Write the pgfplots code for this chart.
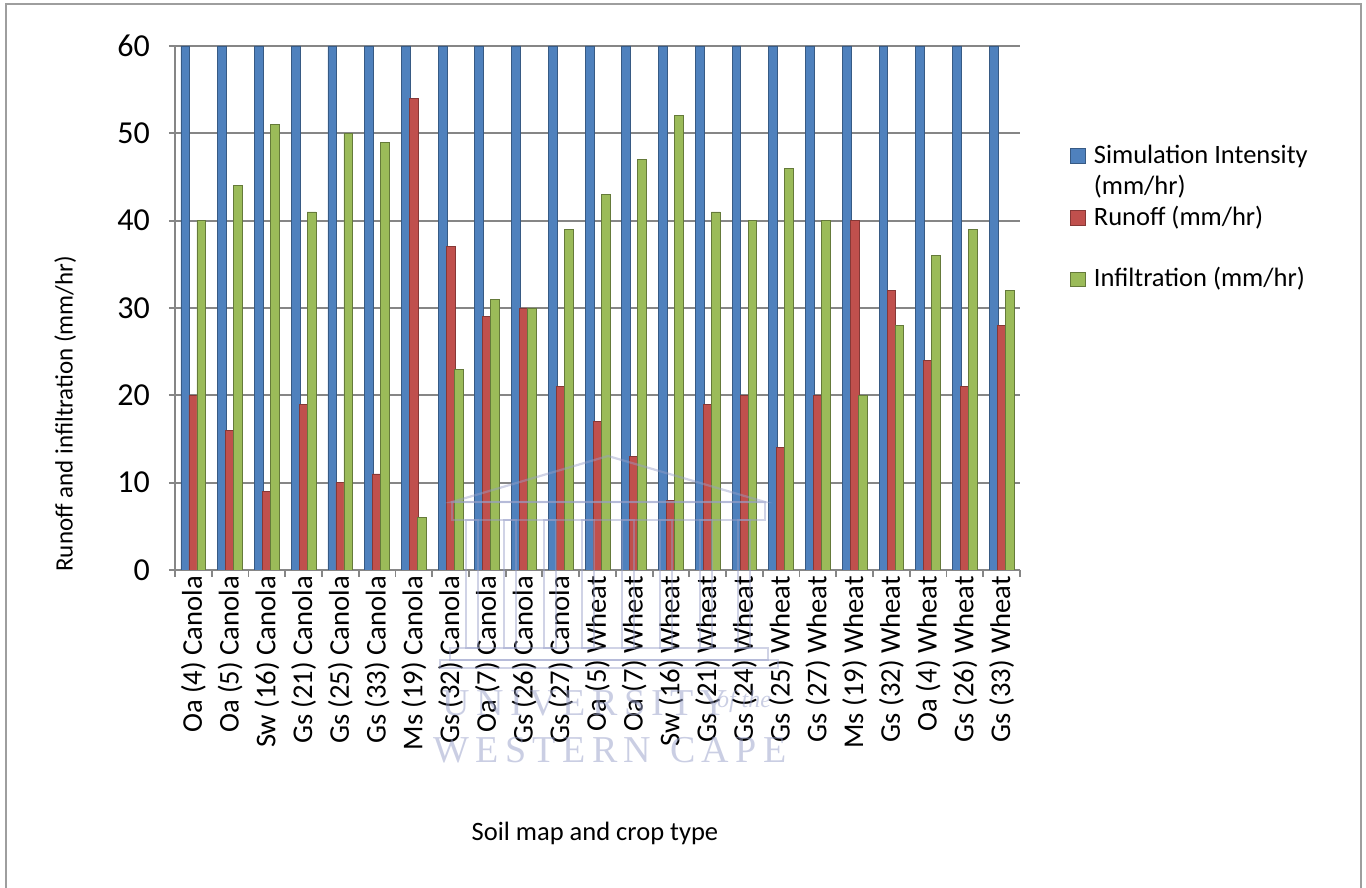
\documentclass[border=0pt]{standalone}
\usepackage{pgfplots}
\pgfplotsset{compat=1.18}
\usepackage{pgfplotstable}
\usepackage{fontspec}
\setmainfont{Carlito}
\newfontfamily\wmfont{Liberation Serif}

\definecolor{simblue}{HTML}{4F81BD}
\definecolor{runred}{HTML}{C0504D}
\definecolor{infgreen}{HTML}{9BBB59}
\definecolor{gridgray}{HTML}{868686}
\definecolor{wmcol}{RGB}{150,158,200}

% Simulation intensity, runoff and infiltration per soil map unit and crop
\pgfplotstableread{
idx sim run inf
0  60 20 40
1  60 16 44
2  60  9 51
3  60 19 41
4  60 10 50
5  60 11 49
6  60 54  6
7  60 37 23
8  60 29 31
9  60 30 30
10 60 21 39
11 60 17 43
12 60 13 47
13 60  8 52
14 60 19 41
15 60 20 40
16 60 14 46
17 60 20 40
18 60 40 20
19 60 32 28
20 60 24 36
21 60 21 39
22 60 28 32
}\datatable

\pgfplotsset{
  sq/.style={legend image code/.code={\fill[##1] (0pt,-2.6pt) rectangle (7.4pt,4.8pt);}},
}

\begin{document}
\begin{tikzpicture}[x=1pt,y=1pt]
\useasboundingbox (0,0) rectangle (683,444);
\draw[gridgray!80, line width=0.9pt] (3,-5) -- (3,442) -- (680.5,442) -- (680.5,-5);
\begin{axis}[
  at={(87.5pt,159pt)}, anchor=south west,
  scale only axis, width=422.5pt, height=262pt,
  xmin=-0.5, xmax=22.5, ymin=0, ymax=60,
  ytick={0,10,...,60},
  xtick={0,...,22},
  xticklabels={Oa (4) Canola, Oa (5) Canola, Sw (16) Canola, Gs (21) Canola,
    Gs (25) Canola, Gs (33) Canola, Ms (19) Canola, Gs (32) Canola,
    Oa (7) Canola, Gs (26) Canola, Gs (27) Canola, Oa (5) Wheat,
    Oa (7) Wheat, Sw (16) Wheat, Gs (21) Wheat, Gs (24) Wheat,
    Gs (25) Wheat, Gs (27) Wheat, Ms (19) Wheat, Gs (32) Wheat,
    Oa (4) Wheat, Gs (26) Wheat, Gs (33) Wheat},
  minor xtick={-0.5,0.5,...,22.5},
  axis lines=left,
  axis line style={gridgray, line width=0.9pt, -},
  ymajorgrids,
  major grid style={gridgray, line width=0.9pt},
  tick align=outside,
  major tick length=3pt, minor tick length=3.5pt,
  tick style={gridgray, line width=0.9pt},
  major x tick style={draw=none},
  /pgf/number format/assume math mode=true,
  tick label style={text=black},
  yticklabel style={font=\fontsize{16}{18}\selectfont},
  yticklabel shift=6pt,
  xticklabel style={rotate=90, anchor=east, font=\fontsize{14.3}{16}\selectfont},
  xticklabel shift=-3.5pt,
  ylabel={Runoff and infiltration (mm/hr)},
  ylabel style={at={(axis description cs:-0.130,0.298)}, anchor=center,
    font=\fontsize{12.5}{15}\selectfont},
  xlabel={Soil map and crop type},
  xlabel style={at={(axis description cs:0.497,-0.502)}, anchor=center,
    font=\fontsize{13.25}{15}\selectfont},
  legend cell align=left,
  legend style={draw=none, fill=none, at={(1.059,0.8157)}, anchor=north west,
    font=\fontsize{13.25}{15}\selectfont, row sep=0pt, column sep=4pt,
    inner sep=0pt,
    nodes={inner sep=0pt, text height=10.3pt, text depth=5.1pt}},
]
\addplot[ybar, bar width=4.4pt, bar shift=-4pt, fill=simblue,
  draw=simblue!70!black, line width=0.4pt, sq]
  table[x=idx, y=sim] {\datatable};
\addlegendentry{Simulation Intensity}
\addlegendimage{empty legend}
\addlegendentry{(mm/hr)}
\addplot[ybar, bar width=4.4pt, bar shift=0pt, fill=runred,
  draw=runred!70!black, line width=0.4pt, sq]
  table[x=idx, y=run] {\datatable};
\addlegendentry{Runoff (mm/hr)}
\addlegendimage{empty legend}
\addlegendentry{}
\addplot[ybar, bar width=4.4pt, bar shift=4pt, fill=infgreen,
  draw=infgreen!65!black, line width=0.4pt, sq]
  table[x=idx, y=inf] {\datatable};
\addlegendentry{Infiltration (mm/hr)}
\end{axis}

% faint university crest drawn across the lower part of the chart
\begin{scope}[draw=wmcol, opacity=0.45, line width=1.1pt]
  \draw (226,193) -- (304,216) -- (382.5,193) -- cycle;
  \draw (226,184) rectangle (382.5,193);
  \foreach \cx in {236,255,275,294,314,333,353,372}
    \draw (\cx-3,120) rectangle (\cx+3,184);
  \draw (225,114) rectangle (384,120);
  \draw (220,110) rectangle (389,114);
\end{scope}
\node[text=wmcol, opacity=0.5, font=\wmfont\fontsize{19}{20}\selectfont]
  at (292.5,92.5) {U\,N\,I\,V\,E\,R\,S\,I\,T\,Y};
\node[text=wmcol, opacity=0.5, font=\wmfont\itshape\fontsize{12}{14}\selectfont]
  at (372,93) {of the};
\node[text=wmcol, opacity=0.5, font=\wmfont\fontsize{19}{20}\selectfont]
  at (305,69) {W\,E\,S\,T\,E\,R\,N\ \ C\,A\,P\,E};
\end{tikzpicture}
\end{document}
